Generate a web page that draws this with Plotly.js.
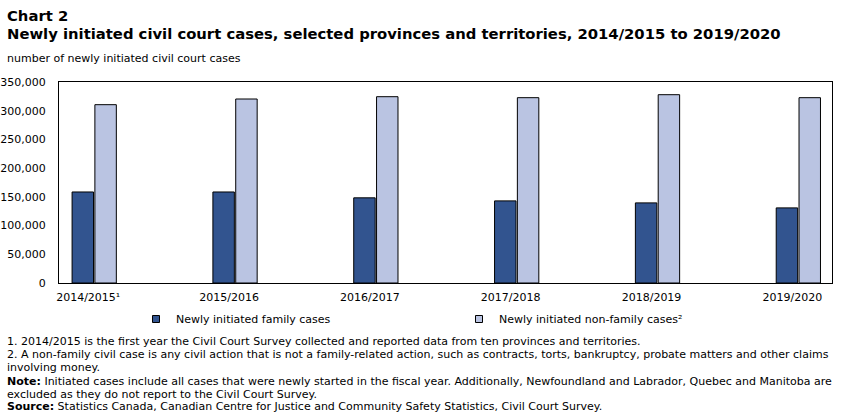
<!DOCTYPE html>
<html>
<head>
<meta charset="utf-8">
<script src="https://cdn.plot.ly/plotly-3.0.1.min.js"></script>
<style>
html,body{margin:0;padding:0;background:#fff;}
#chart{width:851px;height:417px;}
</style>
</head>
<body>
<div id="chart"></div>
<script>
const categories = ["2014/2015¹", "2015/2016", "2016/2017", "2017/2018", "2018/2019", "2019/2020"];
const familyCases = [158500, 158500, 148300, 143000, 139500, 130800];
const nonFamilyCases = [310500, 320400, 324400, 322700, 327900, 322700];
const seriesNames = ["Newly initiated family cases", "Newly initiated non-family cases²"];
const seriesColors = ["#32548F", "#BAC4E2"];
const yTicks = [0, 50000, 100000, 150000, 200000, 250000, 300000, 350000];

const plotTop = 82, plotH = 201;
function py(p){ return (plotTop + plotH - p) / plotH; }

const tickFont = {family: "DejaVu Sans, Verdana, sans-serif", size: 11, color: "#000"};
const txtFont = {family: "DejaVu Sans, Verdana, sans-serif", size: 11, color: "#000"};
const titleFont = {family: "DejaVu Sans, Verdana, sans-serif", size: 14.8, color: "#000"};

const series = [familyCases, nonFamilyCases];
const traces = [];
series.forEach((vals, i) => {
  traces.push({type: "bar", name: seriesNames[i], x: categories, y: vals, showlegend: false,
    legendgroup: "g" + i,
    marker: {color: seriesColors[i], line: {color: "#000", width: 1}}, hoverinfo: "none"});
});
series.forEach((vals, i) => {
  traces.push({type: "scatter", mode: "markers", name: seriesNames[i], x: [null], y: [null],
    legendgroup: "g" + i, showlegend: true,
    marker: {symbol: "square", size: 7, color: seriesColors[i], line: {color: "#000", width: 1}},
    hoverinfo: "none"});
});

const footLines = [
  "1. 2014/2015 is the first year the Civil Court Survey collected and reported data from ten provinces and territories.",
  "2. A non-family civil case is any civil action that is not a family-related action, such as contracts, torts, bankruptcy, probate matters and other claims",
  "involving money.",
  "<b>Note:</b> Initiated cases include all cases that were newly started in the fiscal year. Additionally, Newfoundland and Labrador, Quebec and Manitoba are",
  "excluded as they do not report to the Civil Court Survey.",
  "<b>Source:</b> Statistics Canada, Canadian Centre for Justice and Community Safety Statistics, Civil Court Survey."
];
const footY = [341, 354, 367, 381, 394, 407];

const annotations = [
  {text: "<b>Chart 2</b>", x: 5, y: 15},
  {text: "<b>Newly initiated civil court cases, selected provinces and territories, 2014/2015 to 2019/2020</b>", x: 5, y: 33},
  {text: "number of newly initiated civil court cases", x: 5, y: 58, font: txtFont}
].map(a => ({text: a.text, xref: "paper", yref: "paper", x: (a.x - 59) / 773, y: py(a.y),
  xanchor: "left", yanchor: "middle", showarrow: false, font: a.font || titleFont}));

footLines.forEach((t, i) => annotations.push({text: t, xref: "paper", yref: "paper",
  x: (5 - 59) / 773, y: py(footY[i]), xanchor: "left", yanchor: "middle", showarrow: false,
  font: txtFont}));

const layout = {
  width: 851, height: 417,
  margin: {l: 59, r: 19, t: 82, b: 134},
  paper_bgcolor: "#fff", plot_bgcolor: "#fff",
  barmode: "group", bargap: 0.676, bargroupgap: 0.06,
  showlegend: true,
  legend: {orientation: "h", x: (136 - 59) / 773, y: py(319), xanchor: "left", yanchor: "middle",
    font: txtFont, entrywidth: 278, traceorder: "normal", itemclick: false},
  xaxis: {type: "category", range: [-0.25, 5.239], showline: true, linecolor: "#000", linewidth: 1,
    mirror: true, ticks: "", showgrid: false, zeroline: false, tickfont: tickFont, ticklabelshift: -6,
    ticklabelstandoff: 4, fixedrange: true},
  yaxis: {range: [0, 350000], tickvals: yTicks, tickformat: ",", showline: true, linecolor: "#000",
    linewidth: 1, mirror: true, ticks: "", showgrid: false, zeroline: false, tickfont: tickFont,
    ticklabelstandoff: 10, fixedrange: true},
  annotations: annotations
};

Plotly.newPlot("chart", traces, layout, {displayModeBar: false, staticPlot: true});
</script>
</body>
</html>
